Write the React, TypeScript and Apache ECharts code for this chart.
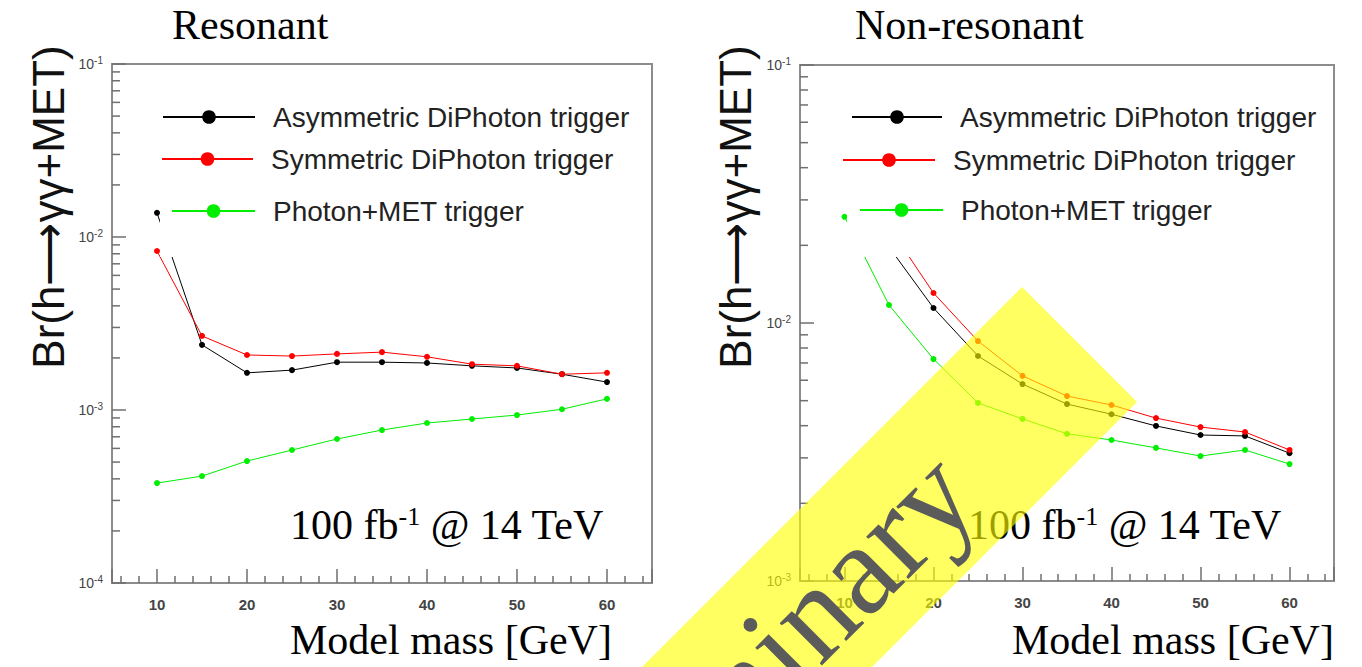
import React, { useEffect, useRef } from "react";
import * as echarts from "echarts";

const masses = [10, 15, 20, 25, 30, 35, 40, 45, 50, 55, 60];

const seriesNames = ["Asymmetric DiPhoton trigger", "Symmetric DiPhoton trigger", "Photon+MET trigger"];
const seriesColors = ["#000000", "#ff0000", "#00ee00"];

// Resonant panel
const resAsym = [0.0138, 0.00238, 0.00164, 0.0017, 0.00189, 0.00189, 0.00187, 0.0018, 0.00175, 0.00161, 0.00145];
const resSym = [0.0083, 0.00268, 0.00208, 0.00205, 0.00211, 0.00216, 0.00203, 0.00184, 0.0018, 0.00161, 0.00164];
const resMet = [0.000378, 0.000415, 0.000507, 0.000587, 0.00068, 0.000766, 0.000841, 0.000887, 0.000935, 0.00101, 0.00116];

// Non-resonant panel
const nonAsym = [null, 0.0197, 0.01143, 0.00745, 0.0058, 0.00485, 0.00443, 0.00399, 0.00368, 0.00365, 0.00313];
const nonSym = [null, 0.0236, 0.01307, 0.00851, 0.00624, 0.00521, 0.00481, 0.00428, 0.00395, 0.00378, 0.00322];
const nonMet = [0.0258, 0.01174, 0.00725, 0.0049, 0.00425, 0.00372, 0.00352, 0.00328, 0.00305, 0.00322, 0.00284];

const resDecades = [-4, -3, -2];
const nonDecades = [-3, -2];
const minorMultipliers = [2, 3, 4, 5, 6, 7, 8, 9];

const SANS = "'Liberation Sans', Arial, Helvetica, sans-serif";
const SERIF = "'Liberation Serif', 'Times New Roman', serif";
const TICK = "#6f6f6f";

function minorTicks(decades: number[]) {
  const out: number[][] = [];
  decades.forEach((d) => minorMultipliers.forEach((m) => out.push([5, m * Math.pow(10, d)])));
  return out;
}

export default function App() {
  const ref = useRef<HTMLDivElement>(null);
  useEffect(() => {
    if (!ref.current) return;
    const chart = echarts.init(ref.current, undefined, { renderer: "svg" });

    const grids = [
      { left: 112, top: 64, width: 540, height: 519 },
      { left: 800, top: 65, width: 534, height: 516 },
    ];

    const xAxis = [0, 1].map((i) => ({
      type: "value",
      gridIndex: i,
      min: 5,
      max: 65,
      splitNumber: 6,
      axisLine: { show: true, lineStyle: { color: "#8c8c8c", width: 2 } },
      axisTick: { show: true, inside: true, length: 14, lineStyle: { color: TICK, width: 1.5 } },
      minorTick: { show: true, splitNumber: 5, length: 7, lineStyle: { color: TICK, width: 1.5 } },
      splitLine: { show: false },
      axisLabel: {
        margin: 14,
        fontSize: 15,
        fontWeight: "bold",
        color: "#444",
        fontFamily: SANS,
        formatter: (v: number) => (v % 10 === 0 && v >= 10 && v <= 60 ? String(v) : ""),
      },
    }));

    const yRich = {
      b: { fontSize: 14, color: "#444", fontFamily: SANS },
      s: { fontSize: 10, color: "#444", fontFamily: SANS, padding: [0, 0, 8, 0] },
    };
    const yAxis = [
      { min: 1e-4, max: 1e-1 },
      { min: 1e-3, max: 1e-1 },
    ].map((r, i) => ({
      type: "log",
      logBase: 10,
      gridIndex: i,
      min: r.min,
      max: r.max,
      axisLine: { show: true, lineStyle: { color: "#8c8c8c", width: 2 } },
      axisTick: { show: true, inside: true, length: 14, lineStyle: { color: TICK, width: 1.5 } },
      splitLine: { show: false },
      axisLabel: {
        margin: 9,
        formatter: (v: number) => `{b|10}{s|${Math.round(Math.log10(v))}}`,
        rich: yRich,
      },
    }));

    const lineSeries = (name: string, color: string, data: (number | null)[], idx: number) => ({
      type: "line",
      name,
      xAxisIndex: idx,
      yAxisIndex: idx,
      data: masses.map((m, i) => [m, data[i]]),
      symbol: "circle",
      symbolSize: 6,
      lineStyle: { width: 1, color },
      itemStyle: { color },
      z: 2,
    });

    const tickSeries = (decades: number[], idx: number) => ({
      type: "custom",
      xAxisIndex: idx,
      yAxisIndex: idx,
      silent: true,
      z: 1,
      data: minorTicks(decades),
      renderItem: (params: any, api: any) => {
        const p = api.coord([api.value(0), api.value(1)]);
        return {
          type: "line",
          shape: { x1: p[0], y1: p[1], x2: p[0] + 8, y2: p[1] },
          style: { stroke: TICK, lineWidth: 1.5 },
        };
      },
    });

    const legendPos = [
      // left panel
      { name: seriesNames[0], left: 162, cy: 117, w: 92 },
      { name: seriesNames[1], left: 161, cy: 159, w: 91 },
      { name: seriesNames[2], left: 171, cy: 211, w: 83 },
      // right panel
      { name: seriesNames[0], left: 851, cy: 117, w: 90 },
      { name: seriesNames[1], left: 842, cy: 160, w: 92 },
      { name: seriesNames[2], left: 859, cy: 210, w: 83 },
    ];

    const legend = legendPos.map((l) => ({
      data: [l.name],
      left: l.left,
      top: l.cy - 14,
      padding: 0,
      itemWidth: l.w,
      itemHeight: 17,
      itemGap: 0,
      selectedMode: false,
      lineStyle: { width: 2 },
      textStyle: {
        fontSize: 28,
        lineHeight: 28,
        color: "#222",
        fontFamily: SANS,
        padding: [0, 0, 0, 13],
      },
      z: 4,
    }));

    const serifText = (text: string, x: number, y: number, extra: any = {}) => ({
      type: "text",
      x,
      y,
      z: 5,
      style: {
        text,
        fill: "#000",
        font: `42px ${SERIF}`,
        verticalAlign: "middle",
        align: "left",
        ...extra,
      },
    });

    const lumiRich = {
      a: { fontSize: 42, fontFamily: SERIF, fill: "#000", color: "#000" },
      s: { fontSize: 26, fontFamily: SERIF, fill: "#000", color: "#000", padding: [0, 0, 18, 0] },
    };

    const graphic = [
      // white legend backgrounds
      { type: "rect", z: 3, shape: { x: 160, y: 80, width: 490, height: 177 }, style: { fill: "#fff" } },
      { type: "rect", z: 3, shape: { x: 847, y: 80, width: 485, height: 177 }, style: { fill: "#fff" } },
      // titles
      serifText("Resonant", 172, 25),
      serifText("Non-resonant", 855, 25),
      // y titles
      {
        type: "text", x: 48, y: 207, rotation: Math.PI / 2, z: 5,
        style: { text: "Br(h⟶γγ+MET)", font: `44px ${SANS}`, fill: "#111", align: "center", verticalAlign: "middle" },
      },
      {
        type: "text", x: 735, y: 207, rotation: Math.PI / 2, z: 5,
        style: { text: "Br(h⟶γγ+MET)", font: `44px ${SANS}`, fill: "#111", align: "center", verticalAlign: "middle" },
      },
      // luminosity labels
      { type: "text", x: 290, y: 525, z: 5, style: { text: "{a|100 fb}{s|-1}{a| @ 14 TeV}", rich: lumiRich, verticalAlign: "middle" } },
      { type: "text", x: 968, y: 525, z: 5, style: { text: "{a|100 fb}{s|-1}{a| @ 14 TeV}", rich: lumiRich, verticalAlign: "middle" } },
      // x titles
      serifText("Model mass [GeV]", 290, 640),
      serifText("Model mass [GeV]", 1012, 640),
      // preliminary banner
      {
        type: "polygon",
        z: 10,
        shape: { points: [[1022, 287], [1137, 402], [537, 1002], [422, 887]] },
        style: { fill: "rgba(255,255,0,0.62)" },
      },
      {
        type: "text", x: 952, y: 473, rotation: Math.PI / 4, z: 11,
        style: { text: "Preliminary", font: `130px ${SERIF}`, fill: "#5b5b5b", align: "right", verticalAlign: "middle" },
      },
    ];

    chart.setOption({
      animation: false,
      backgroundColor: "#fff",
      grid: grids.map((g) => ({ ...g, show: true, borderColor: "#8c8c8c", borderWidth: 2, backgroundColor: "transparent" })),
      xAxis,
      yAxis,
      legend,
      series: [
        lineSeries(seriesNames[0], seriesColors[0], resAsym, 0),
        lineSeries(seriesNames[1], seriesColors[1], resSym, 0),
        lineSeries(seriesNames[2], seriesColors[2], resMet, 0),
        lineSeries(seriesNames[0], seriesColors[0], nonAsym, 1),
        lineSeries(seriesNames[1], seriesColors[1], nonSym, 1),
        lineSeries(seriesNames[2], seriesColors[2], nonMet, 1),
        tickSeries(resDecades, 0),
        tickSeries(nonDecades, 1),
      ],
      graphic,
    });
    return () => chart.dispose();
  }, []);
  return (
    <div
      ref={ref}
      style={{ position: "absolute", left: 0, top: 0, width: 1362, height: 667, background: "#fff" }}
    />
  );
}
